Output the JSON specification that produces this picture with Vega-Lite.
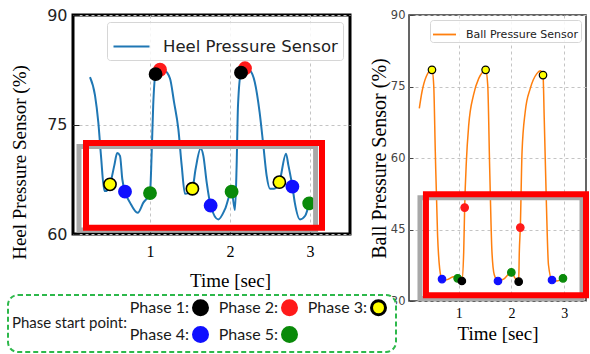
{
  "$schema": "https://vega.github.io/schema/vega-lite/v6.json",
  "padding": {"left": 7, "top": 5, "right": 0, "bottom": 0},
  "background": "white",
  "spacing": 16,
  "resolve": {"scale": {"color": "independent"}},
  "config": {
    "axis": {"domain": false, "labelFont": "DejaVu Sans", "titleFont": "Liberation Serif", "titleFontWeight": "normal", "titleColor": "black", "gridDash": [3, 3], "gridColor": "#c4c4c4", "gridWidth": 1, "labelOverlap": false}
  },
  "datasets": {
    "heel": [
      {"t": 0.25, "v": 81.5}, {"t": 0.3125, "v": 79.0}, {"t": 0.354, "v": 75.3}, {"t": 0.3875, "v": 70.7}, {"t": 0.43, "v": 65.9},
      {"t": 0.46, "v": 65.9}, {"t": 0.5, "v": 66.8}, {"t": 0.554, "v": 69.4}, {"t": 0.59, "v": 71.1}, {"t": 0.625, "v": 70.7},
      {"t": 0.654, "v": 67.5}, {"t": 0.6875, "v": 65.8}, {"t": 0.75, "v": 64.3}, {"t": 0.846, "v": 62.9}, {"t": 0.917, "v": 64.3},
      {"t": 1.0, "v": 65.6}, {"t": 1.02, "v": 70.7}, {"t": 1.04, "v": 77.6}, {"t": 1.07, "v": 81.9}, {"t": 1.125, "v": 82.5},
      {"t": 1.18, "v": 82.4}, {"t": 1.25, "v": 81.3}, {"t": 1.3, "v": 78.1}, {"t": 1.354, "v": 74.4}, {"t": 1.396, "v": 69.4},
      {"t": 1.4375, "v": 65.5}, {"t": 1.48, "v": 65.6}, {"t": 1.53, "v": 66.2}, {"t": 1.57, "v": 68.9}, {"t": 1.633, "v": 71.7},
      {"t": 1.667, "v": 70.7}, {"t": 1.708, "v": 67.1}, {"t": 1.758, "v": 63.9}, {"t": 1.854, "v": 62.0}, {"t": 1.9375, "v": 63.4},
      {"t": 2.02, "v": 65.8}, {"t": 2.0625, "v": 63.3}, {"t": 2.083, "v": 69.4}, {"t": 2.1, "v": 77.6}, {"t": 2.1375, "v": 82.1},
      {"t": 2.1875, "v": 82.7}, {"t": 2.25, "v": 82.4}, {"t": 2.31, "v": 80.8}, {"t": 2.37, "v": 76.7}, {"t": 2.417, "v": 72.1},
      {"t": 2.458, "v": 68.0}, {"t": 2.5, "v": 66.2}, {"t": 2.55, "v": 66.2}, {"t": 2.617, "v": 67.1}, {"t": 2.7, "v": 71.0},
      {"t": 2.73, "v": 69.4}, {"t": 2.78, "v": 66.5}, {"t": 2.81, "v": 64.3}, {"t": 2.875, "v": 62.0}, {"t": 2.94, "v": 62.5},
      {"t": 2.99, "v": 64.2}
    ],
    "ball": [
      {"t": 0.254, "v": 70.4}, {"t": 0.305, "v": 73.9}, {"t": 0.386, "v": 77.1}, {"t": 0.494, "v": 78.5}, {"t": 0.527, "v": 75.3},
      {"t": 0.557, "v": 61.3}, {"t": 0.6, "v": 43.8}, {"t": 0.64, "v": 36.8}, {"t": 0.684, "v": 34.6}, {"t": 0.75, "v": 34.4},
      {"t": 0.81, "v": 34.6}, {"t": 0.905, "v": 35.1}, {"t": 0.98, "v": 34.75}, {"t": 1.06, "v": 34.2}, {"t": 1.095, "v": 40.3},
      {"t": 1.113, "v": 49.6}, {"t": 1.145, "v": 59.2}, {"t": 1.19, "v": 66.9}, {"t": 1.28, "v": 73.2}, {"t": 1.38, "v": 76.7},
      {"t": 1.45, "v": 78.0}, {"t": 1.51, "v": 78.5}, {"t": 1.55, "v": 75.3}, {"t": 1.587, "v": 57.8}, {"t": 1.63, "v": 40.3},
      {"t": 1.674, "v": 35.5}, {"t": 1.744, "v": 34.2}, {"t": 1.85, "v": 34.6}, {"t": 1.997, "v": 36.0}, {"t": 2.07, "v": 34.75},
      {"t": 2.136, "v": 34.05}, {"t": 2.148, "v": 40.3}, {"t": 2.167, "v": 45.4}, {"t": 2.2, "v": 61.3}, {"t": 2.26, "v": 69.7},
      {"t": 2.356, "v": 74.6}, {"t": 2.48, "v": 77.7}, {"t": 2.545, "v": 78.3}, {"t": 2.597, "v": 77.4}, {"t": 2.62, "v": 68.3},
      {"t": 2.66, "v": 50.8}, {"t": 2.7, "v": 37.6}, {"t": 2.767, "v": 34.4}, {"t": 2.86, "v": 34.2}, {"t": 2.975, "v": 34.75}
    ],
    "heelPhases": [
      {"t": 1.125, "v": 82.5, "phase": "Phase 2"}, {"t": 2.1875, "v": 82.7, "phase": "Phase 2"},
      {"t": 0.5, "v": 66.8, "phase": "Phase 3"}, {"t": 1.53, "v": 66.2, "phase": "Phase 3"}, {"t": 2.617, "v": 67.1, "phase": "Phase 3"},
      {"t": 0.6875, "v": 65.8, "phase": "Phase 4"}, {"t": 1.758, "v": 63.9, "phase": "Phase 4"}, {"t": 2.78, "v": 66.5, "phase": "Phase 4"},
      {"t": 1.0, "v": 65.6, "phase": "Phase 5"}, {"t": 2.02, "v": 65.8, "phase": "Phase 5"}, {"t": 2.99, "v": 64.2, "phase": "Phase 5"},
      {"t": 1.07, "v": 81.9, "phase": "Phase 1"}, {"t": 2.1375, "v": 82.1, "phase": "Phase 1"}
    ],
    "ballPhases": [
      {"t": 1.113, "v": 49.6, "phase": "Phase 2"}, {"t": 2.167, "v": 45.4, "phase": "Phase 2"},
      {"t": 0.494, "v": 78.5, "phase": "Phase 3"}, {"t": 1.51, "v": 78.5, "phase": "Phase 3"}, {"t": 2.597, "v": 77.4, "phase": "Phase 3"},
      {"t": 0.684, "v": 34.6, "phase": "Phase 4"}, {"t": 1.744, "v": 34.2, "phase": "Phase 4"}, {"t": 2.767, "v": 34.4, "phase": "Phase 4"},
      {"t": 0.98, "v": 34.75, "phase": "Phase 5"}, {"t": 1.997, "v": 36.0, "phase": "Phase 5"}, {"t": 2.975, "v": 34.75, "phase": "Phase 5"},
      {"t": 1.06, "v": 34.2, "phase": "Phase 1"}, {"t": 2.136, "v": 34.05, "phase": "Phase 1"}
    ]
  },
  "hconcat": [
    {
      "width": 277,
      "height": 219,
      "view": {"stroke": "black", "strokeWidth": 3},
      "layer": [
        {
          "data": {"name": "heel"},
          "mark": {"type": "line", "interpolate": "monotone", "strokeWidth": 2},
          "encoding": {
            "x": {"field": "t", "type": "quantitative", "scale": {"domain": [0.0375, 3.5], "nice": false, "zero": false},
              "axis": {"values": [1, 2, 3], "format": "d", "title": "Time [sec]", "titleX": 157, "titleFontSize": 19, "titleFontWeight": "normal", "titlePadding": 12, "labelFont": "Liberation Serif", "labelFontSize": 16, "labelColor": "black", "tickSize": -5, "tickColor": "black", "labelPadding": 14, "grid": true}},
            "y": {"field": "v", "type": "quantitative", "scale": {"domain": [60, 90], "nice": false, "zero": false},
              "axis": {"values": [60, 75, 90], "labelOverlap": false, "title": "Heel Pressure Sensor (%)", "titleY": 147, "titleFontSize": 19, "titleFontWeight": "normal", "titlePadding": 17, "labelFontSize": 16, "labelColor": "#222", "tickSize": -6, "tickColor": "#222", "labelPadding": 12, "grid": true}},
            "color": {"datum": "Heel Pressure Sensor", "type": "nominal", "scale": {"range": ["#1f77b4"]},
              "legend": {"title": null, "orient": "top-right", "offset": 7, "symbolType": "stroke", "symbolSize": 1296, "symbolStrokeWidth": 2.2, "labelFont": "DejaVu Sans", "labelFontSize": 16.5, "labelColor": "#222", "labelOffset": 12, "labelLimit": 400, "padding": 5, "fillColor": "rgba(255,255,255,0.85)", "strokeColor": "#d6d6d6", "cornerRadius": 3}}
          }
        },
        {
          "data": {"name": "heelPhases"},
          "mark": {"type": "circle", "size": 150, "strokeWidth": 1.6, "opacity": 1},
          "encoding": {
            "x": {"field": "t", "type": "quantitative"},
            "y": {"field": "v", "type": "quantitative"},
            "fill": {"field": "phase", "type": "nominal", "scale": {"domain": ["Phase 1", "Phase 2", "Phase 3", "Phase 4", "Phase 5"], "range": ["#000000", "#ff1a1a", "#ffff00", "#1010ff", "#0a8a0a"]},
              "legend": {"title": "Phase start point:", "orient": "none", "legendX": -65, "legendY": 280, "direction": "horizontal", "columns": 3, "titleOrient": "left", "titleAnchor": "middle", "titleBaseline": "middle", "titleFont": "Lato", "titleFontSize": 15, "titleFontWeight": "normal", "titleColor": "#1a1a1a", "titlePadding": 65, "labelFont": "Lato", "labelFontSize": 16, "labelColor": "#1a1a1a", "labelAlign": "right", "labelOffset": -20, "labelExpr": "datum.label + ':'", "symbolType": "circle", "symbolSize": 196, "symbolStrokeWidth": 3, "columnPadding": 4, "rowPadding": 0, "padding": 4, "strokeColor": "#2db84b", "cornerRadius": 10, "fillColor": "white",
                "encoding": {"legend": {"strokeDash": {"value": [5, 3]}, "strokeWidth": {"value": 2}}}}},
            "stroke": {"field": "phase", "type": "nominal", "scale": {"domain": ["Phase 1", "Phase 2", "Phase 3", "Phase 4", "Phase 5"], "range": ["#000000", "#ff1a1a", "#000000", "#1010ff", "#0a8a0a"]},
              "legend": {"title": "Phase start point:", "orient": "none", "legendX": -65, "legendY": 280, "direction": "horizontal", "columns": 3, "titleOrient": "left", "titleAnchor": "middle", "titleBaseline": "middle", "titleFont": "Lato", "titleFontSize": 15, "titleFontWeight": "normal", "titleColor": "#1a1a1a", "titlePadding": 65, "labelFont": "Lato", "labelFontSize": 16, "labelColor": "#1a1a1a", "labelAlign": "right", "labelOffset": -20, "labelExpr": "datum.label + ':'", "symbolType": "circle", "symbolSize": 196, "symbolStrokeWidth": 3, "columnPadding": 4, "rowPadding": 0, "padding": 4, "strokeColor": "#2db84b", "cornerRadius": 10, "fillColor": "white",
                "encoding": {"legend": {"strokeDash": {"value": [5, 3]}, "strokeWidth": {"value": 2}}}}}
          }
        },
        {
          "data": {"values": [{"t": 0.1125, "t2": 3.07, "v": 60.55, "v2": 71.97}]},
          "mark": {"type": "rect", "filled": false, "color": "#a8a8a8", "strokeWidth": 5},
          "encoding": {
            "x": {"field": "t", "type": "quantitative"},
            "x2": {"field": "t2"},
            "y": {"field": "v", "type": "quantitative"},
            "y2": {"field": "v2"}
          }
        },
        {
          "data": {"values": [{"t": 0.2, "t2": 3.15, "v": 60.87, "v2": 72.45}]},
          "mark": {"type": "rect", "filled": false, "color": "#ff0000", "strokeWidth": 6},
          "encoding": {
            "x": {"field": "t", "type": "quantitative"},
            "x2": {"field": "t2"},
            "y": {"field": "v", "type": "quantitative"},
            "y2": {"field": "v2"}
          }
        }
      ]
    },
    {
      "width": 177,
      "height": 286,
      "view": {"stroke": "#333333", "strokeWidth": 1.5},
      "layer": [
        {
          "data": {"name": "ball"},
          "mark": {"type": "line", "interpolate": "monotone", "strokeWidth": 1.5},
          "encoding": {
            "x": {"field": "t", "type": "quantitative", "scale": {"domain": [0.059, 3.411], "nice": false, "zero": false},
              "axis": {"values": [1, 2, 3], "format": "d", "title": "Time [sec]", "titleFontSize": 19, "titleFontWeight": "normal", "titlePadding": 4, "labelFont": "Liberation Serif", "labelFontSize": 14, "labelColor": "black", "tickSize": -4, "tickColor": "#333", "labelPadding": 9, "grid": true}},
            "y": {"field": "v", "type": "quantitative", "scale": {"domain": [30, 90], "nice": false, "zero": false},
              "axis": {"values": [30, 45, 60, 75, 90], "labelOverlap": false, "title": "Ball Pressure Sensor (%)", "titleFontSize": 20, "titleFontWeight": "normal", "titlePadding": 1, "labelFontSize": 11.5, "labelColor": "#444", "tickSize": -4, "tickColor": "#444", "labelPadding": 8, "grid": true}},
            "color": {"datum": "Ball Pressure Sensor", "type": "nominal", "scale": {"range": ["#ff7f0e"]},
              "legend": {"title": null, "orient": "top-right", "offset": 5, "symbolType": "stroke", "symbolSize": 529, "symbolStrokeWidth": 1.8, "labelFont": "DejaVu Sans", "labelFontSize": 11, "labelColor": "#222", "labelOffset": 9, "labelLimit": 300, "padding": 2, "fillColor": "rgba(255,255,255,0.85)", "strokeColor": "#d6d6d6", "cornerRadius": 3}}
          }
        },
        {
          "data": {"name": "ballPhases"},
          "mark": {"type": "circle", "size": 56, "strokeWidth": 1.2, "opacity": 1},
          "encoding": {
            "x": {"field": "t", "type": "quantitative"},
            "y": {"field": "v", "type": "quantitative"},
            "fill": {"field": "phase", "type": "nominal", "scale": {"domain": ["Phase 1", "Phase 2", "Phase 3", "Phase 4", "Phase 5"], "range": ["#000000", "#ff1a1a", "#ffff00", "#1010ff", "#0a8a0a"]},
              "legend": {"title": "Phase start point:", "orient": "none", "legendX": -65, "legendY": 280, "direction": "horizontal", "columns": 3, "titleOrient": "left", "titleAnchor": "middle", "titleBaseline": "middle", "titleFont": "Lato", "titleFontSize": 15, "titleFontWeight": "normal", "titleColor": "#1a1a1a", "titlePadding": 65, "labelFont": "Lato", "labelFontSize": 16, "labelColor": "#1a1a1a", "labelAlign": "right", "labelOffset": -20, "labelExpr": "datum.label + ':'", "symbolType": "circle", "symbolSize": 196, "symbolStrokeWidth": 3, "columnPadding": 4, "rowPadding": 0, "padding": 4, "strokeColor": "#2db84b", "cornerRadius": 10, "fillColor": "white",
                "encoding": {"legend": {"strokeDash": {"value": [5, 3]}, "strokeWidth": {"value": 2}}}}},
            "stroke": {"field": "phase", "type": "nominal", "scale": {"domain": ["Phase 1", "Phase 2", "Phase 3", "Phase 4", "Phase 5"], "range": ["#000000", "#ff1a1a", "#000000", "#1010ff", "#0a8a0a"]},
              "legend": {"title": "Phase start point:", "orient": "none", "legendX": -65, "legendY": 280, "direction": "horizontal", "columns": 3, "titleOrient": "left", "titleAnchor": "middle", "titleBaseline": "middle", "titleFont": "Lato", "titleFontSize": 15, "titleFontWeight": "normal", "titleColor": "#1a1a1a", "titlePadding": 65, "labelFont": "Lato", "labelFontSize": 16, "labelColor": "#1a1a1a", "labelAlign": "right", "labelOffset": -20, "labelExpr": "datum.label + ':'", "symbolType": "circle", "symbolSize": 196, "symbolStrokeWidth": 3, "columnPadding": 4, "rowPadding": 0, "padding": 4, "strokeColor": "#2db84b", "cornerRadius": 10, "fillColor": "white",
                "encoding": {"legend": {"strokeDash": {"value": [5, 3]}, "strokeWidth": {"value": 2}}}}}
          }
        },
        {
          "data": {"values": [{"t": 0.267, "t2": 3.335, "v": 30.5, "v2": 51.67}]},
          "mark": {"type": "rect", "filled": false, "color": "#a8a8a8", "strokeWidth": 5},
          "encoding": {
            "x": {"field": "t", "type": "quantitative"},
            "x2": {"field": "t2"},
            "y": {"field": "v", "type": "quantitative"},
            "y2": {"field": "v2"}
          }
        },
        {
          "data": {"values": [{"t": 0.38, "t2": 3.411, "v": 31.2, "v2": 52.4}]},
          "mark": {"type": "rect", "filled": false, "color": "#ff0000", "strokeWidth": 6},
          "encoding": {
            "x": {"field": "t", "type": "quantitative"},
            "x2": {"field": "t2"},
            "y": {"field": "v", "type": "quantitative"},
            "y2": {"field": "v2"}
          }
        }
      ]
    }
  ]
}
